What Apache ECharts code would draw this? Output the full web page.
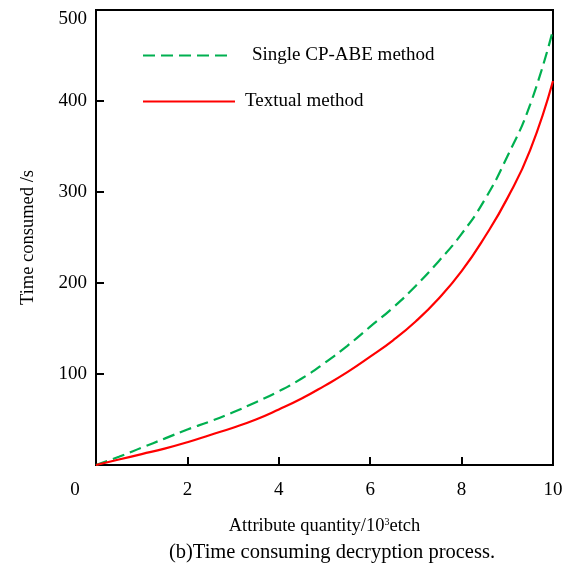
<!DOCTYPE html>
<html>
<head>
<meta charset="utf-8">
<script src="https://cdn.jsdelivr.net/npm/echarts@6/dist/echarts.min.js"></script>
<style>html,body{margin:0;padding:0;background:#fff;}#c{width:570px;height:569px;}</style>
</head>
<body>
<div id="c"></div>
<script>
var xValues = [0, 0.5, 1, 1.5, 2, 2.5, 3, 3.5, 4, 4.5, 5, 5.5, 6, 6.5, 7, 7.5, 8, 8.5, 9, 9.5, 10];
var singleCpAbe = [0, 9, 19, 29, 39, 48, 58, 69, 81, 95, 112, 131, 152, 173, 197, 224, 254, 291, 339, 396, 478];
var textual = [0, 6, 12, 18, 25, 33, 41, 50, 61, 73, 87, 102, 119, 137, 158, 183, 213, 250, 293, 346, 422];
var seriesNames = ['Single CP-ABE method', 'Textual method'];
var xAxisTitle = 'Attribute quantity/10{sup|3}etch';
var yAxisTitle = 'Time consumed /s';
var captionText = '(b)Time consuming decryption process.';

var FONT = 'Liberation Serif';
function pairs(xs, ys) { return xs.map(function (x, i) { return [x, ys[i]]; }); }

var chart = echarts.init(document.getElementById('c'));
chart.setOption({
  backgroundColor: '#fff',
  animation: false,
  title: {
    text: captionText,
    left: 327, top: 537, textAlign: 'center',
    textStyle: { fontFamily: FONT, fontSize: 20.5, fontWeight: 'normal', color: '#000' }
  },
  legend: [
    {
      data: [seriesNames[0]], left: 142, top: 46, padding: 0, itemWidth: 84, itemHeight: 20,
      itemStyle: { opacity: 0 },
      textStyle: { fontFamily: FONT, fontSize: 19, color: '#000', padding: [0, 0, 0, 20] }
    },
    {
      data: [seriesNames[1]], left: 142, top: 92, padding: 0, itemWidth: 92, itemHeight: 20,
      itemStyle: { opacity: 0 },
      textStyle: { fontFamily: FONT, fontSize: 19, color: '#000', padding: [0, 0, 0, 5] }
    }
  ],
  grid: {
    left: 96, right: 17, top: 10, bottom: 104,
    show: true, borderColor: '#000', borderWidth: 2, backgroundColor: 'transparent'
  },
  xAxis: {
    type: 'value', min: 0, max: 10, interval: 2,
    name: xAxisTitle, nameLocation: 'middle', nameGap: 52,
    nameTextStyle: {
      fontFamily: FONT, fontSize: 18.5, color: '#000',
      rich: { sup: { fontFamily: FONT, fontSize: 10, color: '#000', padding: [0, 0, 9, 0] } }
    },
    axisLine: { show: true, lineStyle: { color: '#000', width: 2 } },
    axisTick: { show: true, inside: true, length: 8, lineStyle: { color: '#000', width: 2 } },
    splitLine: { show: false },
    axisLabel: {
      margin: 16, fontFamily: FONT, fontSize: 19, color: '#000',
      formatter: function (v) { return v === 0 ? '{z|0}' : String(v); },
      rich: { z: { fontFamily: FONT, fontSize: 19, color: '#000', padding: [0, 42, 0, 0] } }
    }
  },
  yAxis: {
    type: 'value', min: 0, max: 500, interval: 100,
    name: yAxisTitle, nameLocation: 'middle', nameGap: 58,
    nameTextStyle: { fontFamily: FONT, fontSize: 18.5, color: '#000' },
    axisLine: { show: true, lineStyle: { color: '#000', width: 2 } },
    axisTick: { show: true, inside: true, length: 8, lineStyle: { color: '#000', width: 2 } },
    splitLine: { show: false },
    axisLabel: {
      margin: 9, fontFamily: FONT, fontSize: 19, color: '#000',
      showMinLabel: false, verticalAlignMaxLabel: 'top'
    }
  },
  series: [
    {
      name: seriesNames[0], type: 'line', smooth: 0.5, symbol: 'none',
      data: pairs(xValues, singleCpAbe),
      lineStyle: { color: '#00b050', width: 2.2, type: [12, 6] },
      itemStyle: { color: '#00b050' }
    },
    {
      name: seriesNames[1], type: 'line', smooth: 0.5, symbol: 'none',
      data: pairs(xValues, textual),
      lineStyle: { color: '#ff0000', width: 2.2, type: 'solid' },
      itemStyle: { color: '#ff0000' }
    }
  ]
});
</script>
</body>
</html>
